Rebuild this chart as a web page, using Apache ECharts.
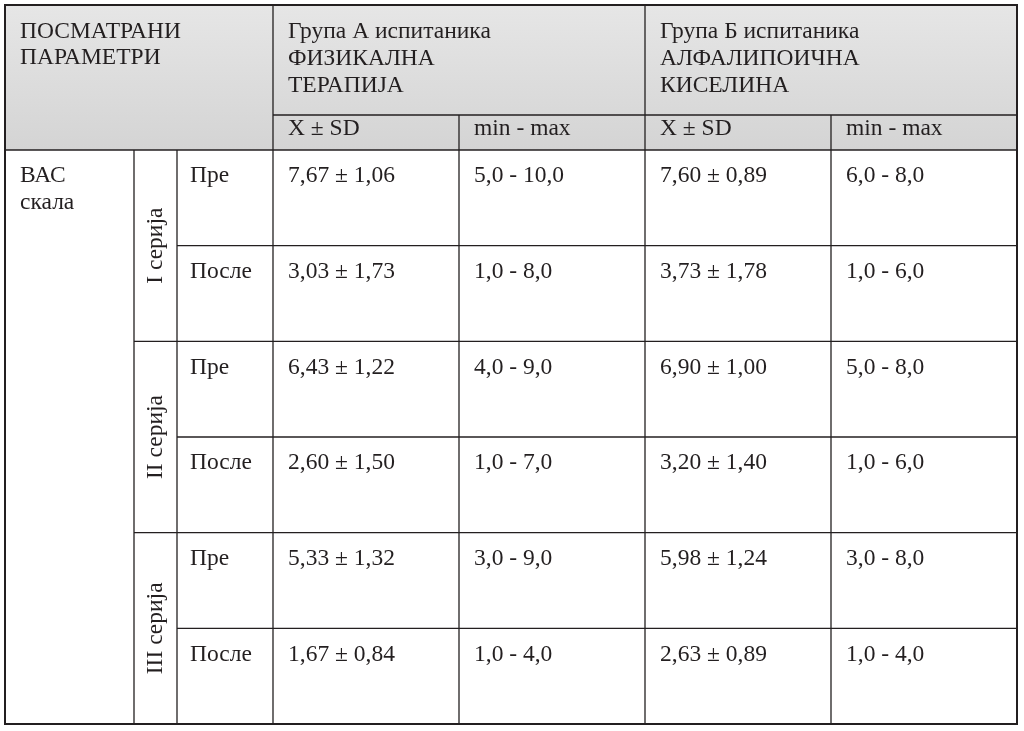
<!DOCTYPE html>
<html><head><meta charset="utf-8">
<script src="https://cdn.jsdelivr.net/npm/echarts@6/dist/echarts.min.js"></script>
<style>html,body{margin:0;background:#fff}#c{width:1024px;height:731px}</style>
</head><body><div id="c"></div>
<script>
var headerParam = ['ПОСМАТРАНИ', 'ПАРАМЕТРИ'];
var groupA = ['Група А испитаника', 'ФИЗИКАЛНА', 'ТЕРАПИЈА'];
var groupB = ['Група Б испитаника', 'АЛФАЛИПОИЧНА', 'КИСЕЛИНА'];
var subHeaders = ['X ± SD', 'min - max', 'X ± SD', 'min - max'];
var paramLabel = ['ВАС', 'скала'];
var series = ['I серија', 'II серија', 'III серија'];
var phases = ['Пре', 'После'];
var aMeanSD = ['7,67 ± 1,06', '3,03 ± 1,73', '6,43 ± 1,22', '2,60 ± 1,50', '5,33 ± 1,32', '1,67 ± 0,84'];
var aRange = ['5,0 - 10,0', '1,0 - 8,0', '4,0 - 9,0', '1,0 - 7,0', '3,0 - 9,0', '1,0 - 4,0'];
var bMeanSD = ['7,60 ± 0,89', '3,73 ± 1,78', '6,90 ± 1,00', '3,20 ± 1,40', '5,98 ± 1,24', '2,63 ± 0,89'];
var bRange = ['6,0 - 8,0', '1,0 - 6,0', '5,0 - 8,0', '1,0 - 6,0', '3,0 - 8,0', '1,0 - 4,0'];

var F = '23.5px "Liberation Serif", "DejaVu Serif", serif';
var C = '#231f20';
var L = 5, R = 1017, T = 5, B = 724, HB = 150, HS = 115;
var cols = [134, 177, 273, 459, 645, 831];
var rowH = (B - HB) / 6;
var g = [];
function line(x1, y1, x2, y2, w) {
  g.push({type: 'line', shape: {x1: x1, y1: y1, x2: x2, y2: y2}, style: {stroke: C, lineWidth: w || 1.3}});
}
function text(x, y, s, rot) {
  var e = {type: 'text', x: x, y: y, style: {text: s, font: F, fill: C, textVerticalAlign: 'middle'}};
  if (rot) { e.rotation = Math.PI / 2; e.style.textAlign = 'center'; }
  g.push(e);
}
g.push({type: 'rect', shape: {x: L, y: T, width: R - L, height: HB - T}, style: {fill: new echarts.graphic.LinearGradient(0, 0, 0, 1, [{offset: 0, color: '#e6e6e6'}, {offset: 1, color: '#d4d4d4'}])}});
line(L, HB, R, HB);
line(cols[2], T, cols[2], B); line(cols[4], T, cols[4], B);
line(cols[3], HS, cols[3], B); line(cols[5], HS, cols[5], B);
line(cols[2], HS, R, HS);
line(cols[0], HB, cols[0], B); line(cols[1], HB, cols[1], B);
for (var i = 1; i < 6; i++) {
  var y = HB + i * rowH;
  line(i % 2 === 0 ? cols[0] : cols[1], y, R, y);
}
g.push({type: 'rect', shape: {x: L, y: T, width: R - L, height: B - T}, style: {fill: 'none', stroke: C, lineWidth: 2}});
headerParam.forEach(function (s, k) { text(20, 32 + k * 26, s); });
groupA.forEach(function (s, k) { text(cols[2] + 15, 32 + k * 27, s); });
groupB.forEach(function (s, k) { text(cols[4] + 15, 32 + k * 27, s); });
subHeaders.forEach(function (s, k) { text(cols[2 + k] + 15, 129, s); });
paramLabel.forEach(function (s, k) { text(20, 176 + k * 27, s); });
series.forEach(function (s, k) { text(156, HB + (2 * k + 1) * rowH, s, true); });
for (var r = 0; r < 6; r++) {
  var ty = HB + r * rowH + 26;
  text(cols[1] + 13, ty, phases[r % 2]);
  text(cols[2] + 15, ty, aMeanSD[r]);
  text(cols[3] + 15, ty, aRange[r]);
  text(cols[4] + 15, ty, bMeanSD[r]);
  text(cols[5] + 15, ty, bRange[r]);
}
var chart = echarts.init(document.getElementById('c'));
chart.setOption({animation: false, graphic: g});
</script></body></html>
